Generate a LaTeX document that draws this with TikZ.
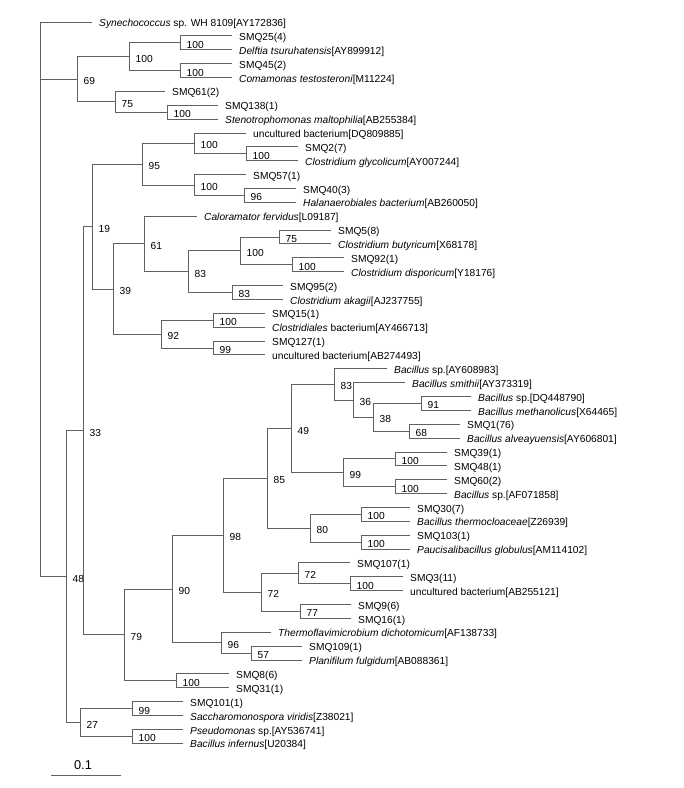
\documentclass[tikz,border=0pt]{standalone}
\usepackage{fontspec}
\setmainfont{Liberation Sans}
\begin{document}
\begin{tikzpicture}[x=1pt, y=-1pt, font=\fontsize{10.2}{12}\selectfont, line join=miter,
	br/.style={draw=black!62, line width=0.9pt},
	leaf/.style={anchor=west, inner sep=0pt, xshift=7pt, yshift=-2pt},
	bs/.style={anchor=west, inner sep=0pt, xshift=6.5pt, yshift=-2pt}]
	\useasboundingbox (0,0) rectangle (684,788);
	% leaves: name / row / end of branch / label
	\foreach \p/\q/\xe/\s in {
		syn/0/92/{\textit{Synechococcus} sp. WH 8109[AY172836]},
		smq25/1/232/SMQ25(4),
		delftia/2/232/{\textit{Delftia tsuruhatensis}[AY899912]},
		smq45/3/232/SMQ45(2),
		comamonas/4/232/{\textit{Comamonas testosteroni}[M11224]},
		smq61/5/165/SMQ61(2),
		smq138/6/218/SMQ138(1),
		steno/7/218/{\textit{Stenotrophomonas maltophilia}[AB255384]},
		uncdq/8/246/{uncultured bacterium[DQ809885]},
		smq2/9/298/SMQ2(7),
		cgly/10/298/{\textit{Clostridium glycolicum}[AY007244]},
		smq57/11/246/SMQ57(1),
		smq40/12/296/SMQ40(3),
		halan/13/296/{\textit{Halanaerobiales bacterium}[AB260050]},
		calor/14/197/{\textit{Caloramator fervidus}[L09187]},
		smq5/15/331/SMQ5(8),
		cbut/16/331/{\textit{Clostridium butyricum}[X68178]},
		smq92/17/344/SMQ92(1),
		cdis/18/344/{\textit{Clostridium disporicum}[Y18176]},
		smq95/19/283/SMQ95(2),
		caka/20/283/{\textit{Clostridium akagii}[AJ237755]},
		smq15/21/265/SMQ15(1),
		clostr/22/265/{\textit{Clostridiales} bacterium[AY466713]},
		smq127/23/265/SMQ127(1),
		uncab274/24/265/{uncultured bacterium[AB274493]},
		bspay/25/387/{\textit{Bacillus} sp.[AY608983]},
		bsmith/26/405/{\textit{Bacillus smithii}[AY373319]},
		bspdq/27/471/{\textit{Bacillus} sp.[DQ448790]},
		bmeth/28/471/{\textit{Bacillus methanolicus}[X64465]},
		smq1/29/460/SMQ1(76),
		balv/30/460/{\textit{Bacillus alveayuensis}[AY606801]},
		smq39/31/447/SMQ39(1),
		smq48/32/447/SMQ48(1),
		smq60/33/447/SMQ60(2),
		bspaf/34/447/{\textit{Bacillus} sp.[AF071858]},
		smq30/35/410/SMQ30(7),
		btherm/36/410/{\textit{Bacillus thermocloaceae}[Z26939]},
		smq103/37/410/SMQ103(1),
		pauci/38/410/{\textit{Paucisalibacillus globulus}[AM114102]},
		smq107/39/350/SMQ107(1),
		smq3/40/403/SMQ3(11),
		uncab255/41/403/{uncultured bacterium[AB255121]},
		smq9/42/351/SMQ9(6),
		smq16/43/351/SMQ16(1),
		thermo/44/271/{\textit{Thermoflavimicrobium dichotomicum}[AF138733]},
		smq109/45/302/SMQ109(1),
		planif/46/302/{\textit{Planifilum fulgidum}[AB088361]},
		smq8/47/229/SMQ8(6),
		smq31/48/229/SMQ31(1),
		smq101/49/183/SMQ101(1),
		sacch/50/183/{\textit{Saccharomonospora viridis}[Z38021]},
		pseud/51/183/{\textit{Pseudomonas} sp.[AY536741]},
		binf/52/183/{\textit{Bacillus infernus}[U20384]}}{
		\coordinate (\p) at (\xe,{22+13.87*\q});
		\node[leaf] (t-\p) at (\p) {\s};}
	% clades: name / x / children / bootstrap
	\foreach \p/\xe/\ca/\cb/\v in {
		n100a/180/smq25/delftia/100, n100b/180/smq45/comamonas/100,
		n100top/129/n100a/n100b/100, n100c/167/smq138/steno/100,
		n75/115/smq61/n100c/75, n69/77/n100top/n75/69,
		n100e/246/smq2/cgly/100, n100d/194/uncdq/n100e/100,
		n96/244/smq40/halan/96, n100f/194/smq57/n96/100,
		n95/142/n100d/n100f/95,
		n75b/279/smq5/cbut/75, n100h/292/smq92/cdis/100,
		n100g/240/n75b/n100h/100, n83b/232/smq95/caka/83,
		n83a/188/n100g/n83b/83, n61/144/calor/n83a/61,
		n100i/213/smq15/clostr/100, n99a/213/smq127/uncab274/99,
		n92/161/n100i/n99a/92, n39/113/n61/n92/39, n19/92/n95/n39/19,
		n91/421/bspdq/bmeth/91, n68/409/smq1/balv/68,
		n38/373/n91/n68/38, n36/353/bsmith/n38/36, n83c/334/bspay/n36/83,
		n100k/395/smq39/smq48/100, n100l/395/smq60/bspaf/100,
		n99c/343/n100k/n100l/99, n49/291/n83c/n99c/49,
		n100n/361/smq30/btherm/100, n100o/361/smq103/pauci/100,
		n80/310/n100n/n100o/80, n85/267/n49/n80/85,
		n100p/350/smq3/uncab255/100, n72b/298/smq107/n100p/72,
		n77/300/smq9/smq16/77, n72a/261/n72b/n77/72, n98/223/n85/n72a/98,
		n57/251/smq109/planif/57, n96b/221/thermo/n57/96,
		n90/172/n98/n96b/90, n100m/176/smq8/smq31/100,
		n79/124/n90/n100m/79, n33/83/n19/n79/33,
		n99b/132/smq101/sacch/99, n100j/132/pseud/binf/100,
		n27/80/n99b/n100j/27, n48/66/n33/n27/48}{
		\path (\ca) -- (\cb) coordinate[midway] (\p-m);
		\coordinate (\p) at (\xe,0 |- \p-m);
		\draw[br] (\p) |- (\ca) (\p) |- (\cb);
		\node[bs] (b-\p) at (\p) {\v};}
	\coordinate (root) at (40,22);
	\foreach \q in {syn,n69,n48}
		\draw[br] (root) |- (\q);
	% scale bar
	\path (51,775) coordinate (sbA) (121,775) coordinate (sbB);
	\draw[br] (sbA) -- (sbB);
	\node[font=\fontsize{12.8}{14}\selectfont] (sbT) at (83,765) {0.1};
\end{tikzpicture}
\end{document}
